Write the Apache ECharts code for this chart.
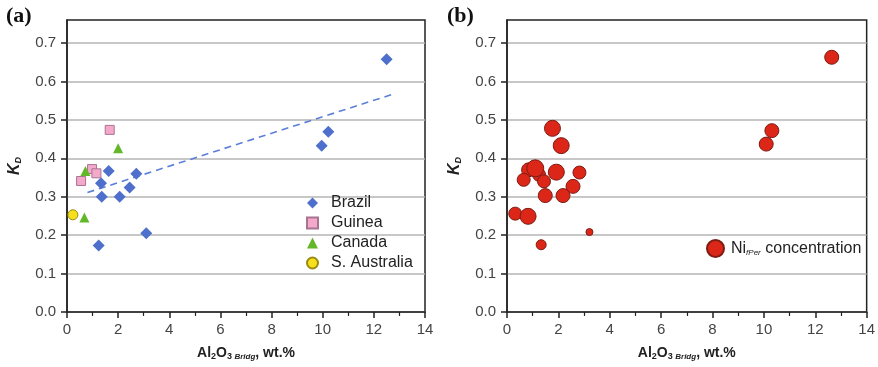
<!DOCTYPE html>
<html>
<head>
<meta charset="utf-8">
<script src="https://cdn.jsdelivr.net/npm/echarts@6/dist/echarts.min.js"></script>
<style>
  html, body { margin: 0; background: #fff; }
  #chart { width: 878px; height: 367px; }
</style>
</head>
<body>
<div id="chart"></div>
<script>
// panel (a): Al2O3 in bridgmanite vs K_D, by locality
const brazil = [[12.5, 0.658], [10.22, 0.469], [9.96, 0.433], [1.63, 0.367], [2.71, 0.36], [1.33, 0.335],
  [2.45, 0.324], [1.36, 0.3], [2.06, 0.3], [3.1, 0.205], [1.24, 0.173]];
const guinea = [[1.67, 0.474], [0.98, 0.372], [1.15, 0.361], [0.55, 0.341]];
const canada = [[2.0, 0.426], [0.72, 0.367], [0.68, 0.246]];
const sAustralia = [[0.23, 0.253]];
const trendX = [0.8, 12.7];
const trendY = [0.311, 0.566];

// panel (b): same axes, marker size = relative Ni concentration in fPer
const niX = [12.64, 10.31, 10.09, 1.77, 2.11, 0.84, 1.25, 1.1, 0.65, 1.44, 1.92, 2.82, 2.57, 1.49, 2.18, 0.32, 0.82, 3.21, 1.33];
const niY = [0.663, 0.472, 0.437, 0.478, 0.433, 0.37, 0.357, 0.374, 0.344, 0.34, 0.364, 0.363, 0.327, 0.303, 0.303, 0.256, 0.249, 0.208, 0.175];
const niConc = [1.4, 1.4, 1.4, 1.6, 1.6, 1.4, 1.3, 1.7, 1.3, 1.3, 1.6, 1.3, 1.4, 1.4, 1.4, 1.3, 1.6, 0.7, 1.0];

const yTicks = [0, 0.1, 0.2, 0.3, 0.4, 0.5, 0.6, 0.7];

const font = "Liberation Sans, Arial, sans-serif";
const chart = echarts.init(document.getElementById("chart"), null, { renderer: "canvas" });

function xAxisFor(gridIndex) {
  return {
    type: "value",
    gridIndex,
    min: 0,
    max: 14,
    interval: 2,
    axisLine: { lineStyle: { color: "#222", width: 1.5 } },
    axisTick: { length: 6, lineStyle: { color: "#222", width: 1.5 } },
    minorTick: { show: true, splitNumber: 2, length: 4, lineStyle: { color: "#222", width: 1.2 } },
    axisLabel: { color: "#444", fontSize: 15, fontFamily: font, margin: 10 },
    splitLine: { show: false },
    name: "Al{s|2}O{s|3 }{i|Bridg}, wt.%",
    nameLocation: "middle",
    nameGap: 34,
    nameTextStyle: {
      fontFamily: font, fontSize: 14, fontWeight: "bold", color: "#222",
      rich: {
        s: { fontFamily: font, fontSize: 9, fontWeight: "bold", color: "#222", verticalAlign: "bottom", padding: [6, 0, 0, 0] },
        i: { fontFamily: font, fontSize: 8, fontWeight: "bold", fontStyle: "italic", color: "#222", verticalAlign: "bottom", padding: [6, 0, 0, 0] },
      },
    },
  };
}

function yAxisFor(gridIndex) {
  return {
    type: "value",
    gridIndex,
    min: 0,
    max: 0.76,
    interval: 0.1,
    axisLine: { lineStyle: { color: "#222", width: 1.5 } },
    axisTick: { length: 6, customValues: yTicks, lineStyle: { color: "#222", width: 1.5 } },
    axisLabel: {
      color: "#444", fontSize: 15, fontFamily: font, margin: 11,
      customValues: yTicks,
      formatter: (v) => v.toFixed(1),
    },
    splitLine: { lineStyle: { color: "#b4b4b4", width: 1.5 } },
    name: "{k|K}{d|D}",
    nameLocation: "middle",
    nameGap: 44,
    nameTextStyle: {
      rich: {
        k: { fontFamily: font, fontSize: 16, fontWeight: "bold", fontStyle: "italic", color: "#222" },
        d: { fontFamily: font, fontSize: 9, fontWeight: "bold", fontStyle: "italic", color: "#222", verticalAlign: "bottom", padding: [7, 0, 0, 0] },
      },
    },
  };
}

chart.setOption({
  animation: false,
  backgroundColor: "#fff",
  graphic: [
    { type: "text", left: 6, top: 5, style: { text: "(a)", font: "bold 22px 'Liberation Serif', serif", fill: "#111" } },
    { type: "text", left: 447, top: 5, style: { text: "(b)", font: "bold 22px 'Liberation Serif', serif", fill: "#111" } },
  ],
  grid: [
    { left: 67, top: 20, width: 358, height: 292, show: true, borderColor: "#222", borderWidth: 1.5, backgroundColor: "transparent" },
    { left: 507, top: 20, width: 360, height: 292, show: true, borderColor: "#222", borderWidth: 1.5, backgroundColor: "transparent" },
  ],
  xAxis: [xAxisFor(0), xAxisFor(1)],
  yAxis: [yAxisFor(0), yAxisFor(1)],
  legend: [
    {
      data: ["Brazil", "Guinea", "Canada", "S. Australia"],
      orient: "vertical",
      left: 301,
      top: 190,
      itemWidth: 11,
      itemHeight: 11,
      itemGap: 4,
      textStyle: { fontFamily: font, fontSize: 16, color: "#222", padding: [0, 0, 0, 8] },
    },
    {
      data: ["Ni"],
      orient: "vertical",
      left: 701,
      top: 234,
      itemWidth: 17,
      itemHeight: 17,
      formatter: () => "{n|Ni}{s|fPer} {n|concentration}",
      textStyle: {
        fontFamily: font, fontSize: 16, color: "#222", padding: [0, 0, 0, 2],
        rich: {
          n: { fontFamily: font, fontSize: 16, color: "#222" },
          s: { fontFamily: font, fontSize: 8, fontStyle: "italic", color: "#222", verticalAlign: "bottom", padding: [8, 0, 0, 0] },
        },
      },
    },
  ],
  series: [
    {
      name: "trend", type: "line", xAxisIndex: 0, yAxisIndex: 0, symbol: "none", silent: true,
      lineStyle: { color: "#5b7fd8", width: 1.6, type: [7, 5] },
      data: trendX.map((x, i) => [x, trendY[i]]),
    },
    {
      name: "Brazil", type: "scatter", xAxisIndex: 0, yAxisIndex: 0, symbol: "diamond", symbolSize: 12,
      itemStyle: { color: "#4e6fcc", opacity: 1 }, data: brazil, z: 3,
    },
    {
      name: "Guinea", type: "scatter", xAxisIndex: 0, yAxisIndex: 0, symbol: "rect", symbolSize: 9,
      itemStyle: { color: "#f4a8cc", borderColor: "#a87590", borderWidth: 1, opacity: 1 }, data: guinea, z: 3,
    },
    {
      name: "Canada", type: "scatter", xAxisIndex: 0, yAxisIndex: 0, symbol: "triangle", symbolSize: 10,
      itemStyle: { color: "#62b828", opacity: 1 }, data: canada, z: 3,
    },
    {
      name: "S. Australia", type: "scatter", xAxisIndex: 0, yAxisIndex: 0, symbol: "circle", symbolSize: 10,
      itemStyle: { color: "#f6e01c", borderColor: "#9c8a10", borderWidth: 1, opacity: 1 }, data: sAustralia, z: 3,
    },
    {
      name: "Ni", type: "scatter", xAxisIndex: 1, yAxisIndex: 1, symbol: "circle",
      symbolSize: (v) => v[2] * 10,
      itemStyle: { color: "#dc2618", borderColor: "#7c1c14", borderWidth: 1, opacity: 1 },
      data: niX.map((x, i) => [x, niY[i], niConc[i]]),
      z: 3,
    },
  ],
});
</script>
</body>
</html>
